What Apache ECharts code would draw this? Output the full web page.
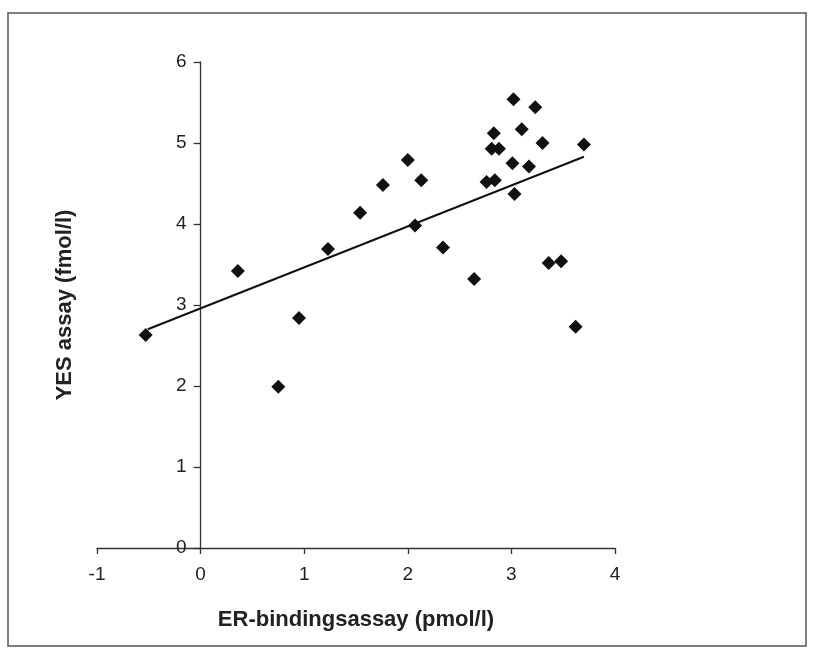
<!DOCTYPE html>
<html>
<head>
<meta charset="utf-8">
<script src="https://cdn.jsdelivr.net/npm/echarts@6/dist/echarts.min.js"></script>
<style>
html,body{margin:0;padding:0;background:#fff;}
#chart{width:813px;height:649px;}
</style>
</head>
<body>
<div id="chart"></div>
<script>
// Data
var erBinding = [-0.53, 0.36, 0.75, 0.95, 1.23, 1.54, 1.76, 2.00, 2.07, 2.13, 2.34, 2.64, 2.76, 2.84, 2.83, 2.81, 2.88, 3.02, 3.01, 3.03, 3.10, 3.17, 3.23, 3.30, 3.36, 3.48, 3.62, 3.70];
var yesAssay  = [2.63, 3.42, 1.99, 2.84, 3.69, 4.14, 4.48, 4.79, 3.98, 4.54, 3.71, 3.32, 4.52, 4.54, 5.12, 4.93, 4.93, 5.54, 4.75, 4.37, 5.17, 4.71, 5.44, 5.00, 3.52, 3.54, 2.73, 4.98];
var fitX = [-0.51, 3.70];
var fitY = [2.70, 4.83];
var xTicks = [-1, 0, 1, 2, 3, 4];
var yTicks = [0, 1, 2, 3, 4, 5, 6];
var xName = 'ER-bindingsassay (pmol/l)';
var yName = 'YES assay (fmol/l)';

var points = erBinding.map(function (x, i) { return [x, yesAssay[i]]; });
var fitLine = fitX.map(function (x, i) { return [x, fitY[i]]; });

var gridLeft = 97, gridRight = 198;
var plotW = 813 - gridLeft - gridRight;
var xMin = xTicks[0], xMax = xTicks[xTicks.length - 1];
// shift y axis so it sits at x = 0 (axis placement, not data)
var yAxisOffset = -plotW * (0 - xMin) / (xMax - xMin);

var chart = echarts.init(document.getElementById('chart'), null, {renderer: 'canvas'});
var font = 'Liberation Sans, Arial, sans-serif';
chart.setOption({
  backgroundColor: '#fff',
  animation: false,
  graphic: [{
    type: 'rect',
    shape: {x: 8, y: 13, width: 798, height: 633},
    style: {fill: 'none', stroke: '#555', lineWidth: 1.5},
    silent: true
  }],
  grid: {left: gridLeft, right: gridRight, top: 62, bottom: 101, containLabel: false, outerBoundsMode: 'none'},
  xAxis: {
    type: 'value',
    min: xMin, max: xMax, interval: 1,
    splitLine: {show: false},
    axisLine: {show: true, onZero: false, lineStyle: {color: '#333', width: 1.3}},
    axisTick: {show: true, length: 6, lineStyle: {color: '#333', width: 1.3}},
    axisLabel: {color: '#222', fontSize: 19, fontFamily: font, margin: 17},
    name: xName, nameLocation: 'middle', nameGap: 61,
    nameTextStyle: {color: '#222', fontSize: 22, fontWeight: 'bold', fontFamily: font}
  },
  yAxis: {
    type: 'value',
    position: 'left',
    offset: yAxisOffset,
    min: yTicks[0], max: yTicks[yTicks.length - 1], interval: 1,
    splitLine: {show: false},
    axisLine: {show: true, onZero: false, lineStyle: {color: '#333', width: 1.3}},
    axisTick: {show: true, length: 7, lineStyle: {color: '#333', width: 1.3}},
    axisLabel: {color: '#222', fontSize: 19, fontFamily: font, margin: 14},
    name: yName, nameLocation: 'middle', nameGap: 125, nameRotate: 90,
    nameTextStyle: {color: '#222', fontSize: 22, fontWeight: 'bold', fontFamily: font}
  },
  series: [{
    type: 'scatter',
    data: points,
    symbol: 'diamond',
    symbolSize: 14,
    itemStyle: {color: '#111', opacity: 1},
    z: 3
  }, {
    type: 'line',
    data: fitLine,
    symbol: 'none',
    lineStyle: {color: '#111', width: 2},
    z: 2
  }]
});
</script>
</body>
</html>
